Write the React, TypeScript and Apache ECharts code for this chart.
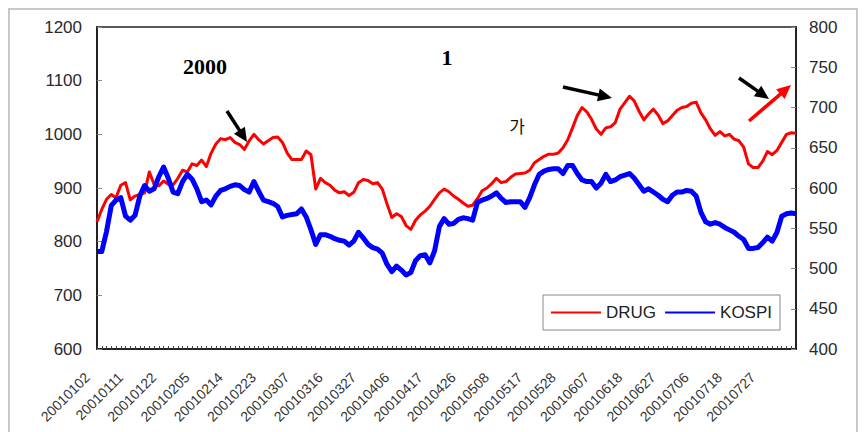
import React, { useEffect, useRef } from "react";
import * as echarts from "echarts";

const dates = [
  "20010102","20010103","20010104","20010105","20010108","20010109","20010110","20010111","20010112","20010115",
  "20010116","20010117","20010118","20010119","20010122","20010126","20010129","20010130","20010131","20010201",
  "20010202","20010205","20010206","20010207","20010208","20010209","20010212","20010213","20010214","20010215",
  "20010216","20010219","20010220","20010221","20010222","20010223","20010226","20010227","20010228","20010302",
  "20010305","20010306","20010307","20010308","20010309","20010312","20010313","20010314","20010315","20010316",
  "20010319","20010320","20010321","20010322","20010323","20010326","20010327","20010328","20010329","20010330",
  "20010402","20010403","20010404","20010406","20010409","20010410","20010411","20010412","20010413","20010416",
  "20010417","20010418","20010419","20010420","20010423","20010424","20010425","20010426","20010427","20010430",
  "20010502","20010503","20010504","20010507","20010508","20010509","20010510","20010511","20010514","20010515",
  "20010516","20010517","20010518","20010521","20010522","20010523","20010524","20010525","20010528","20010529",
  "20010530","20010531","20010601","20010604","20010605","20010607","20010608","20010611","20010612","20010613",
  "20010614","20010615","20010618","20010619","20010620","20010621","20010622","20010625","20010626","20010627",
  "20010628","20010629","20010702","20010703","20010704","20010705","20010706","20010709","20010710","20010711",
  "20010712","20010713","20010716","20010718","20010719","20010720","20010723","20010724","20010725","20010726",
  "20010727","20010730","20010731","20010801","20010802","20010803","20010806","20010807"
];

const drug = [
  837, 860, 879, 888, 882, 905, 910, 878, 885, 888,
  891, 930, 907, 904, 913, 907, 906, 918, 933, 930,
  945, 942, 952, 940, 965, 982, 992, 990, 994, 985,
  981, 972, 988, 1000, 990, 982, 988, 994, 995, 985,
  965, 953, 953, 953, 969, 962, 898, 918, 910, 905,
  896, 891, 893, 886, 892, 910, 916, 914, 908, 910,
  898, 870, 845, 852, 847, 830, 823, 840, 850, 857,
  866, 879, 891, 898, 893, 885, 879, 872, 866, 868,
  880, 895, 900, 908, 918, 910, 912, 920, 926, 927,
  928, 933, 947, 953, 959, 963, 963, 965, 975, 990,
  1012, 1035, 1050, 1042, 1028, 1010, 1000, 1012, 1014, 1022,
  1047, 1059, 1071, 1062, 1043, 1027, 1038, 1047, 1036, 1020,
  1025, 1035, 1045, 1050, 1052, 1058, 1060, 1040, 1027, 1010,
  998, 1005, 997, 1000, 991, 988, 976, 945, 938, 938,
  950, 968, 962, 970, 985, 1000, 1003, 1002
];

const kospi = [
  521, 521, 546, 578, 585, 588, 565, 560, 566, 590,
  603, 596, 599, 614, 626, 612, 595, 593, 608, 617,
  611, 599, 583, 585, 579, 590, 597, 599, 602, 604,
  603, 598, 595, 608, 596, 585, 583, 581, 577, 564,
  566, 567, 568, 574, 564, 548, 530, 542, 542, 540,
  537, 535, 534, 529, 534, 545, 538, 530, 526, 524,
  519, 505, 496, 503, 498, 492, 495, 510, 516, 517,
  507, 522, 552, 562, 555, 556, 561, 563, 562, 560,
  582, 585, 587, 590, 594, 587, 582, 583, 583, 583,
  576, 588, 604, 617, 621, 623, 624, 624, 618, 628,
  628, 618, 610, 608, 608, 600, 606, 617, 608, 610,
  614, 616, 618, 612, 604, 596, 599, 595, 591, 586,
  583, 591, 595, 595, 597, 596, 590, 570, 558, 555,
  557, 555, 551, 548, 545, 540, 536, 525, 525, 526,
  532, 539, 534, 545, 565, 568, 569, 568
];

const seriesNames = ["DRUG", "KOSPI"];

function arrow(x1: number, y1: number, x2: number, y2: number, color: string) {
  const dx = x2 - x1;
  const dy = y2 - y1;
  const len = Math.hypot(dx, dy);
  const ux = dx / len;
  const uy = dy / len;
  const headLen = 14;
  const headW = 6.5;
  const bx = x2 - ux * headLen;
  const by = y2 - uy * headLen;
  const px = -uy;
  const py = ux;
  return [
    {
      type: "line",
      silent: true,
      shape: { x1, y1, x2: bx + ux * 2, y2: by + uy * 2 },
      style: { stroke: color, lineWidth: 3.5 },
    },
    {
      type: "polygon",
      silent: true,
      shape: {
        points: [
          [x2, y2],
          [bx + px * headW, by + py * headW],
          [bx - px * headW, by - py * headW],
        ],
      },
      style: { fill: color },
    },
  ];
}

export default function App() {
  const ref = useRef<HTMLDivElement>(null);

  useEffect(() => {
    document.body.style.margin = "0";
    const chart = echarts.init(ref.current!, null, { renderer: "svg" });
    const axisFont = { fontFamily: "Arial, 'Liberation Sans', sans-serif", fontSize: 17, color: "#2a2a2a" };
    chart.setOption({
      animation: false,
      backgroundColor: "#ffffff",
      grid: {
        left: 97,
        right: 71,
        top: 27,
        bottom: 83,
        show: true,
        borderColor: "#222",
        borderWidth: 1.5,
        containLabel: false,
      },
      legend: {
        left: 543,
        top: 295,
        orient: "horizontal",
        backgroundColor: "#ffffff",
        borderColor: "#888",
        borderWidth: 1,
        borderRadius: 0,
        padding: [9, 8, 9, 7],
        itemWidth: 50,
        itemHeight: 14,
        itemGap: 8,
        itemStyle: { opacity: 0 },
        textStyle: { fontFamily: "Arial, 'Liberation Sans', sans-serif", fontSize: 17, color: "#222" },
        data: seriesNames,
      },
      xAxis: {
        type: "category",
        data: dates,
        boundaryGap: false,
        axisLine: { show: true, lineStyle: { color: "#222", width: 2 } },
        axisTick: { show: true, interval: 0, inside: true, length: 3, lineStyle: { color: "#444" } },
        axisLabel: {
          interval: 6,
          rotate: 45,
          margin: 16,
          showMaxLabel: false,
          showMinLabel: true,
          formatter: (v: string) => `{t|${v}}{s|}`,
          rich: {
            t: {
              fontFamily: "Arial, 'Liberation Sans', sans-serif",
              fontSize: 14,
              color: "#333",
            },
            s: { width: 14, height: 10 },
          },
          fontFamily: "Arial, 'Liberation Sans', sans-serif",
          fontSize: 14,
          color: "#333",
        },
        splitLine: { show: false },
      },
      yAxis: [
        {
          type: "value",
          min: 600,
          max: 1200,
          interval: 100,
          position: "left",
          axisLine: { show: true, lineStyle: { color: "#222", width: 2 } },
          axisTick: { show: true, inside: true, length: 5, lineStyle: { color: "#888" } },
          axisLabel: { margin: 15, formatter: (v: number) => String(v), ...axisFont },
          splitLine: { show: false },
        },
        {
          type: "value",
          min: 400,
          max: 800,
          interval: 50,
          position: "right",
          axisLine: { show: true, lineStyle: { color: "#222", width: 2 } },
          axisTick: { show: true, inside: true, length: 5, lineStyle: { color: "#888" } },
          axisLabel: { margin: 13, formatter: (v: number) => String(v), ...axisFont },
          splitLine: { show: false },
        },
      ],
      series: [
        {
          name: seriesNames[0],
          type: "line",
          yAxisIndex: 0,
          data: drug,
          symbol: "none",
          showSymbol: false,
          lineStyle: { color: "#ff0000", width: 3, join: "round" },
          itemStyle: { color: "#ff0000" },
        },
        {
          name: seriesNames[1],
          type: "line",
          yAxisIndex: 1,
          data: kospi,
          symbol: "none",
          showSymbol: false,
          lineStyle: { color: "#0000ff", width: 5, join: "round" },
          itemStyle: { color: "#0000ff" },
        },
      ],
      graphic: [
        {
          type: "rect",
          silent: true,
          z: -10,
          shape: { x: 9, y: 9, width: 848, height: 432 },
          style: { fill: "none", stroke: "#c8c8c8", lineWidth: 2 },
        },
        {
          type: "text",
          silent: true,
          x: 205,
          y: 66,
          style: {
            text: "2000",
            font: "bold 22px 'Liberation Serif', 'Times New Roman', serif",
            fill: "#000",
            align: "center",
            verticalAlign: "middle",
          },
        },
        {
          type: "text",
          silent: true,
          x: 447,
          y: 57,
          style: {
            text: "1",
            font: "bold 22px 'Liberation Serif', 'Times New Roman', serif",
            fill: "#000",
            align: "center",
            verticalAlign: "middle",
          },
        },
        {
          type: "text",
          silent: true,
          x: 517,
          y: 125,
          style: {
            text: "가",
            font: "17px 'Noto Sans CJK KR', sans-serif",
            fill: "#111",
            align: "center",
            verticalAlign: "middle",
          },
        },
        ...arrow(227, 111, 247, 142, "#000"),
        ...arrow(563, 87, 612, 98, "#000"),
        ...arrow(739, 78, 769, 99, "#000"),
        ...arrow(749, 121, 791, 85, "#ff0000"),
      ],
    });
    return () => chart.dispose();
  }, []);

  return (
    <div
      ref={ref}
      style={{ position: "absolute", left: 0, top: 0, width: 867, height: 432 }}
    />
  );
}
